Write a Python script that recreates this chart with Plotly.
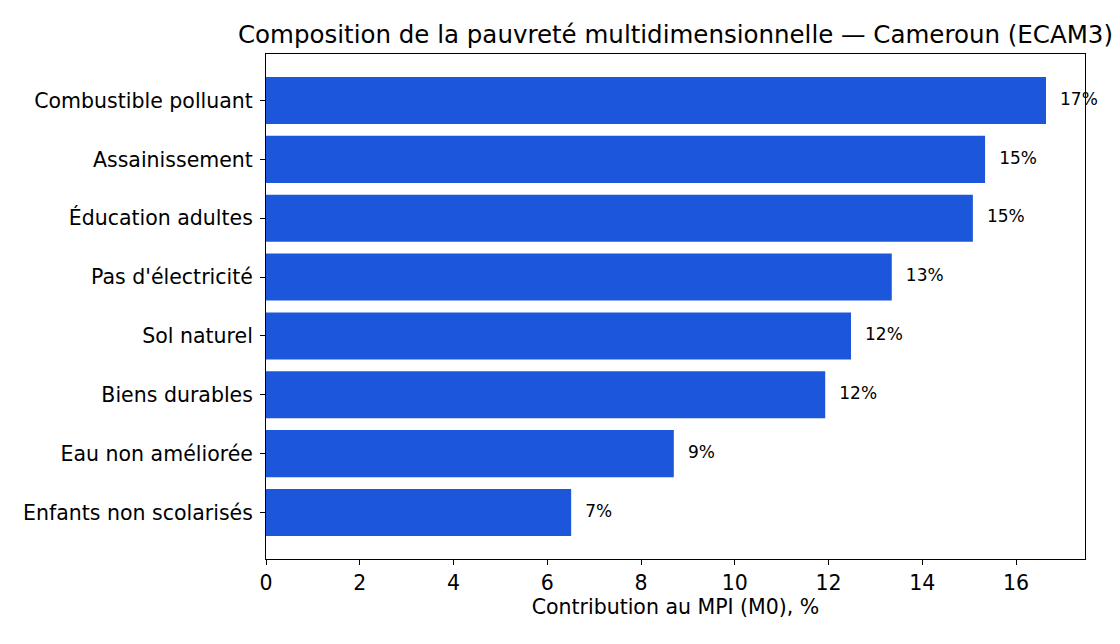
import plotly.graph_objects as go

# Contribution de chaque indicateur au MPI (M0), en %
indicateurs = [
    "Enfants non scolarisés",
    "Eau non améliorée",
    "Biens durables",
    "Sol naturel",
    "Pas d'électricité",
    "Éducation adultes",
    "Assainissement",
    "Combustible polluant",
]
contributions = [6.51, 8.70, 11.93, 12.48, 13.35, 15.08, 15.34, 16.64]
etiquettes = [f"{v:.0f}%" for v in contributions]

BLEU = "#1c57db"
FONT = "DejaVu Sans"

# la page a une marge de 8px, on compense
W, H = 1112, 636
L, R, T, B = 258, 35, 46, 85

fig = go.Figure()
fig.add_trace(go.Bar(
    x=contributions, y=indicateurs, orientation="h",
    marker=dict(color=BLEU, line=dict(width=0)),
    width=0.8, hoverinfo="skip",
))
# etiquettes a droite des barres
fig.add_trace(go.Scatter(
    x=[v + 0.3 for v in contributions], y=indicateurs,
    mode="text", text=etiquettes, textposition="middle right",
    textfont=dict(family=FONT, size=17, color="black"),
    hoverinfo="skip", cliponaxis=False,
))

xmax = max(contributions) * 1.05
fig.update_layout(
    width=W, height=H,
    margin=dict(l=L, r=R, t=T, b=B),
    plot_bgcolor="white", paper_bgcolor="white",
    showlegend=False,
    font=dict(family=FONT, size=20.5, color="black"),
    title=dict(
        text="Composition de la pauvreté multidimensionnelle — Cameroun (ECAM3)",
        x=(L + W - R) / 2 / W, xanchor="center",
        y=1 - 26 / H, yanchor="middle",
        font=dict(family=FONT, size=24.5, color="black"),
    ),
    xaxis=dict(
        range=[0, xmax], tickvals=list(range(0, 17, 2)),
        showgrid=False, zeroline=False,
        showline=True, linecolor="black", linewidth=1, mirror=True,
        ticks="outside", ticklen=5, tickcolor="black",
        title=dict(text="Contribution au MPI (M0), %", font=dict(size=20.5), standoff=6),
    ),
    yaxis=dict(
        range=[-0.79, 7.79],
        showgrid=False, zeroline=False,
        showline=True, linecolor="black", linewidth=1, mirror=True,
        ticks="outside", ticklen=5, tickcolor="black",
        ticklabelstandoff=3,
    ),
)

fig.write_html("out.html")
